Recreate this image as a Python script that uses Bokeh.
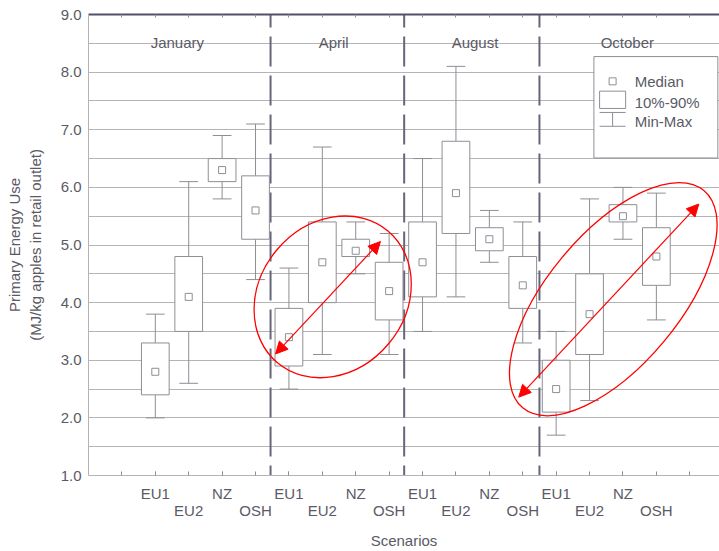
import numpy as np
from bokeh.plotting import figure
from bokeh.models import (FixedTicker, LinearAxis, PrintfTickFormatter, Arrow,
                          NormalHead, ColumnDataSource, Range1d)
from bokeh.core.properties import value
from bokeh.embed import file_html
from bokeh.resources import INLINE

# ---------------- data ----------------
months = ["January", "April", "August", "October"]
scenarios = ["EU1", "EU2", "NZ", "OSH"]

# order: Jan EU1, EU2, NZ, OSH, Apr ..., Aug ..., Oct ...
v_min = [2.0, 2.6, 5.8, 4.4,  2.5, 3.1, 4.5, 3.1,  3.5, 4.1, 4.7, 3.3,  1.7, 2.3, 5.1, 3.7]
v_p10 = [2.4, 3.5, 6.1, 5.1,  2.9, 4.0, 4.8, 3.7,  4.1, 5.2, 4.9, 3.9,  2.1, 3.1, 5.4, 4.3]
v_med = [2.8, 4.1, 6.3, 5.6,  3.4, 4.7, 4.9, 4.2,  4.7, 5.9, 5.1, 4.3,  2.5, 3.8, 5.5, 4.8]
v_p90 = [3.3, 4.8, 6.5, 6.2,  3.9, 5.4, 5.1, 4.7,  5.4, 6.8, 5.3, 4.8,  3.0, 4.5, 5.7, 5.3]
v_max = [3.8, 6.1, 6.9, 7.1,  4.6, 6.7, 5.4, 5.2,  6.5, 8.1, 5.6, 5.4,  3.5, 5.8, 6.0, 5.9]

y_ticks = [1, 2, 3, 4, 5, 6, 7, 8, 9]
legend_labels = ["Median", "10%-90%", "Min-Max"]
x_title = "Scenarios"
y_title = "Primary Energy Use\n(MJ/kg apples in retail outlet)"

# annotation positions (data units)
month_label_x = [2.66, 7.34, 11.57, 16.13]
month_label_y = 8.52
separators_x = [5.45, 9.45, 13.5]
ell_x = [7.31, 15.71]
ell_y = [4.10, 4.06]
ell_w = [172, 283]     # screen px
ell_h = [146, 132]
ell_angle = [0.873, 0.876]
arrows = [(5.60, 3.11, 8.74, 5.06), (12.88, 2.36, 18.27, 5.71)]

# ---------------- styles ----------------
FONT = "Liberation Sans"
TXT = "#5a5a66"
GRID = "#b4b4b4"
BOX = "#8e8e96"

x_pos = [2 + 4 * g + s for g in range(len(months)) for s in range(len(scenarios))]
bw = 0.83
cw = 0.56

src = ColumnDataSource(dict(
    x=x_pos, lo=v_min, p10=v_p10, med=v_med, p90=v_p90, hi=v_max,
    left=[x - bw / 2 for x in x_pos], right=[x + bw / 2 for x in x_pos],
    cl=[x - cw / 2 for x in x_pos], cr=[x + cw / 2 for x in x_pos],
))

p = figure(width=719, height=551, x_range=Range1d(0, 18.89), y_range=Range1d(1, 9),
           output_backend="svg", toolbar_location=None,
           x_axis_location=None, y_axis_location="left",
           min_border_left=88, min_border_right=0, min_border_top=14, min_border_bottom=76)
p.outline_line_color = None
p.background_fill_color = "white"
p.border_fill_color = "white"

# y axis
ya = p.yaxis[0]
ya.ticker = FixedTicker(ticks=y_ticks)
ya.formatter = PrintfTickFormatter(format="%.1f")
ya.major_tick_in = 0
ya.major_tick_out = 0
ya.minor_tick_line_color = None
ya.axis_line_color = GRID
ya.major_label_standoff = 7
ya.major_label_text_font = FONT
ya.major_label_text_font_size = "15px"
ya.major_label_text_color = TXT
ya.axis_label = y_title
ya.axis_label_text_font = FONT
ya.axis_label_text_font_size = "15px"
ya.axis_label_text_font_style = "normal"
ya.axis_label_text_color = TXT
ya.axis_label_standoff = 14

p.xgrid.visible = False
p.ygrid.ticker = FixedTicker(ticks=[1.5 + 0.5 * i for i in range(15)])
p.ygrid.grid_line_color = GRID
p.ygrid.grid_line_width = 1

# scenario labels: first row on the main axis, second row on an axis below it
row1_x = [x for i, x in enumerate(x_pos) if i % 2 == 0]
row1_t = [scenarios[i % 4] for i in range(len(x_pos)) if i % 2 == 0]
row2_x = [x for i, x in enumerate(x_pos) if i % 2 == 1]
row2_t = [scenarios[i % 4] for i in range(len(x_pos)) if i % 2 == 1]
all_ticks = list(range(1, 19))

xa1 = LinearAxis(ticker=FixedTicker(ticks=row1_x, minor_ticks=all_ticks),
                 major_label_overrides=dict(zip(row1_x, row1_t)))
xa1.axis_line_color = GRID
xa1.major_tick_in = 4
xa1.major_tick_out = 0
xa1.minor_tick_in = 4
xa1.minor_tick_out = 0
xa1.major_tick_line_color = BOX
xa1.minor_tick_line_color = BOX
xa1.major_label_standoff = 9
xa1.major_label_text_font = FONT
xa1.major_label_text_font_size = "15px"
xa1.major_label_text_color = TXT
p.add_layout(xa1, "below")

xa2 = LinearAxis(ticker=FixedTicker(ticks=row2_x, minor_ticks=[]),
                 major_label_overrides=dict(zip(row2_x, row2_t)))
xa2.axis_line_color = None
xa2.major_tick_line_color = None
xa2.minor_tick_line_color = None
xa2.major_tick_in = 0
xa2.major_tick_out = 0
xa2.major_label_standoff = -3
xa2.major_label_text_font = FONT
xa2.major_label_text_font_size = "15px"
xa2.major_label_text_color = TXT
xa2.axis_label = x_title
xa2.axis_label_text_font = FONT
xa2.axis_label_text_font_size = "15px"
xa2.axis_label_text_font_style = "normal"
xa2.axis_label_text_color = TXT
xa2.axis_label_standoff = 10
p.add_layout(xa2, "below")

# top axis (border + inner ticks, no labels)
xt = LinearAxis(ticker=FixedTicker(ticks=[], minor_ticks=all_ticks))
xt.axis_line_color = "#50506a"
xt.axis_line_width = 2
xt.major_tick_line_color = None
xt.minor_tick_in = 3
xt.minor_tick_out = 0
xt.minor_tick_line_color = BOX
xt.major_label_standoff = 0
p.add_layout(xt, "above")

# separators
p.segment(x0=separators_x, y0=[9] * 3, x1=separators_x, y1=[1] * 3,
          line_color="#66667a", line_width=2, line_dash="30 9", line_dash_offset=17)

# whiskers
p.segment(x0="x", y0="hi", x1="x", y1="p90", source=src, line_color=BOX, line_width=1)
p.segment(x0="x", y0="p10", x1="x", y1="lo", source=src, line_color=BOX, line_width=1)
p.segment(x0="cl", y0="hi", x1="cr", y1="hi", source=src, line_color=BOX, line_width=1)
p.segment(x0="cl", y0="lo", x1="cr", y1="lo", source=src, line_color=BOX, line_width=1)
# boxes
p.quad(left="left", right="right", bottom="p10", top="p90", source=src,
       fill_color="white", line_color=BOX, line_width=1)
# medians
p.scatter(x="x", y="med", source=src, marker="square", size=7,
          fill_color="white", line_color=BOX, line_width=1)

# month labels
p.text(x=month_label_x, y=[month_label_y] * 4, text=months, text_align="center",
       text_baseline="middle", text_font=value(FONT), text_font_size="15px", text_color=TXT)

# legend box
lg_l, lg_r, lg_b, lg_t = 15.13, 18.84, 6.51, 8.27
p.quad(left=[lg_l], right=[lg_r], bottom=[lg_b], top=[lg_t], fill_color="white",
       line_color=BOX, line_width=1)
ix = 15.69
p.scatter(x=[ix], y=[7.84], marker="square", size=7, fill_color="white",
          line_color=BOX, line_width=1)
p.quad(left=[15.30], right=[16.08], bottom=[7.37], top=[7.67], fill_color="white",
       line_color=BOX, line_width=1)
p.segment(x0=[15.30, 15.30, ix], y0=[7.30, 7.06, 7.30], x1=[16.08, 16.08, ix],
          y1=[7.30, 7.06, 7.06], line_color=BOX, line_width=1)
p.text(x=[16.35] * 3, y=[7.84, 7.48, 7.14], text=legend_labels, text_align="left",
       text_baseline="middle", text_font=value(FONT), text_font_size="15px", text_color=TXT)

# red annotations
p.ellipse(x=ell_x, y=ell_y, width=ell_w, height=ell_h, angle=ell_angle,
          width_units="screen", height_units="screen",
          fill_color=None, line_color="red", line_width=1.3)
for (xs, ys, xe, ye) in arrows:
    p.add_layout(Arrow(start=NormalHead(size=12, fill_color="red", line_color="red"),
                       end=NormalHead(size=12, fill_color="red", line_color="red"),
                       x_start=xs, y_start=ys, x_end=xe, y_end=ye,
                       line_color="red", line_width=1.2))

open("out.html", "w").write(file_html(p, INLINE))
